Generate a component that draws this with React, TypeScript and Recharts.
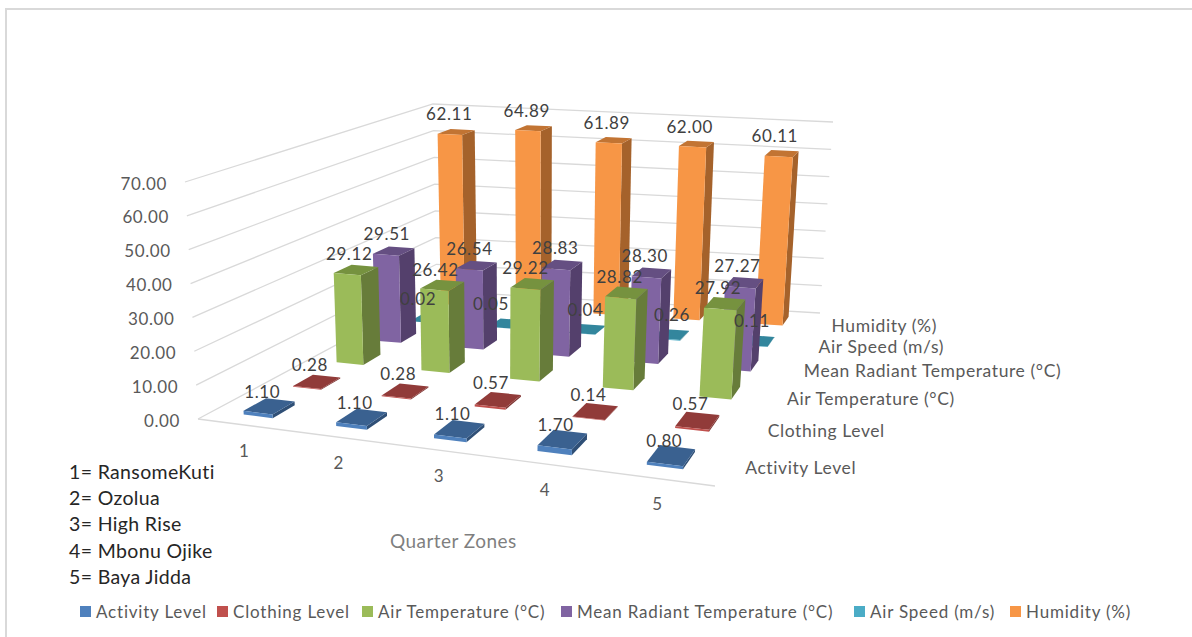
import React from 'react';
import { ScatterChart, Scatter, XAxis, YAxis, Legend } from 'recharts';

const zones = ['1', '2', '3', '4', '5'];
const zoneNames = ['1= RansomeKuti', '2= Ozolua', '3= High Rise', '4= Mbonu Ojike', '5= Baya Jidda'];
const valueTicks = [0, 10, 20, 30, 40, 50, 60, 70];

const seriesNames = [
  'Activity Level',
  'Clothing Level',
  'Air Temperature (°C)',
  'Mean Radiant Temperature (°C)',
  'Air Speed (m/s)',
  'Humidity (%)',
];

const activityLevel = [1.1, 1.1, 1.1, 1.7, 0.8];
const clothingLevel = [0.28, 0.28, 0.57, 0.14, 0.57];
const airTemperature = [29.12, 26.42, 29.22, 28.82, 27.92];
const radiantTemperature = [29.51, 26.54, 28.83, 28.3, 27.27];
const airSpeed = [0.02, 0.05, 0.04, 0.26, 0.11];
const humidity = [62.11, 64.89, 61.89, 62.0, 60.11];
const seriesValues = [activityLevel, clothingLevel, airTemperature, radiantTemperature, airSpeed, humidity];

// front, top and side shade of each series
const faceColors = [
  ['#4F81BD', '#3A6190', '#2F4F76'],
  ['#C0504D', '#913B39', '#7F3533'],
  ['#9BBB59', '#76923F', '#677C3A'],
  ['#8064A2', '#654F82', '#54406C'],
  ['#4BACC6', '#33869D', '#2F7688'],
  ['#F79646', '#C27433', '#A5622B'],
];

const FONT = 'Lato, sans-serif';
const MAX_VALUE = 70;
const BAR_WIDTH = 0.32; // share of a zone slot
const BAR_DEPTH = 0.44; // share of a series slot
const LABEL_RISE = [15, 17, 16, 17, 20, 18]; // value label height above each series' bars
const SPEED_LABEL_SHIFT = [-4, -9, 5, 8, 2]; // air speed labels sit off centre so they stay readable
const LEGEND_SLOTS = [137, 145, 199, 293, 156, 130]; // legend item widths

type Pt = { x: number; y: number };

// floor and ceiling of the plot box: front-left, front-right, back-right, back-left
const floorBox: Pt[] = [{ x: 198, y: 419 }, { x: 715, y: 486 }, { x: 820, y: 313 }, { x: 437, y: 291 }];
const ceilingBox: Pt[] = [{ x: 185, y: 182 }, { x: 732, y: 232 }, { x: 833, y: 122 }, { x: 433, y: 104 }];

// unit square to quadrilateral, so rows and zones shrink towards the back
const homography = (q: Pt[]) => {
  const [p0, p1, p2, p3] = q;
  const dx1 = p1.x - p2.x;
  const dx2 = p3.x - p2.x;
  const dy1 = p1.y - p2.y;
  const dy2 = p3.y - p2.y;
  const sx = p0.x - p1.x + p2.x - p3.x;
  const sy = p0.y - p1.y + p2.y - p3.y;
  const den = dx1 * dy2 - dx2 * dy1;
  const g = (sx * dy2 - dx2 * sy) / den;
  const h = (dx1 * sy - sx * dy1) / den;
  return (u: number, v: number): Pt => {
    const w = g * u + h * v + 1;
    return {
      x: ((p1.x - p0.x + g * p1.x) * u + (p3.x - p0.x + h * p3.x) * v + p0.x) / w,
      y: ((p1.y - p0.y + g * p1.y) * u + (p3.y - p0.y + h * p3.y) * v + p0.y) / w,
    };
  };
};

const floorAt = homography(floorBox);
const ceilingAt = homography(ceilingBox);

// evens out the zone spacing, the plain homography foreshortens it too much
const spreadZones = (u: number) => u + 0.09 * u * (1 - u);

const project = (u: number, v: number, value: number): Pt => {
  const a = floorAt(spreadZones(u), v);
  const b = ceilingAt(spreadZones(u), v);
  const t = value / MAX_VALUE;
  return { x: a.x + (b.x - a.x) * t, y: a.y + (b.y - a.y) * t };
};

const buildBars = (s: number) =>
  seriesValues[s].map((value, z) => {
    const u0 = (z + 0.5 - BAR_WIDTH / 2) / zones.length;
    const u1 = (z + 0.5 + BAR_WIDTH / 2) / zones.length;
    const v0 = (s + 0.5 - BAR_DEPTH / 2) / seriesNames.length;
    const v1 = (s + 0.5 + BAR_DEPTH / 2) / seriesNames.length;
    const anchor = project(u0, v0, value);
    return {
      ...anchor,
      value,
      corners: {
        fbl: project(u0, v0, 0),
        fbr: project(u1, v0, 0),
        bbr: project(u1, v1, 0),
        ftl: anchor,
        ftr: project(u1, v0, value),
        btr: project(u1, v1, value),
        btl: project(u0, v1, value),
      },
    };
  });

const poly = (pts: Pt[], ax: number, ay: number, cx: number, cy: number) =>
  pts.map((p) => `${p.x - ax + cx},${p.y - ay + cy}`).join(' ');

const BarShape = (props: any) => {
  const { cx, cy, payload, colors } = props;
  const c = payload.corners;
  const to = (pts: Pt[]) => poly(pts, payload.x, payload.y, cx, cy);
  return (
    <g>
      <polygon points={to([c.fbr, c.bbr, c.btr, c.ftr])} fill={colors[2]} />
      <polygon points={to([c.ftl, c.ftr, c.btr, c.btl])} fill={colors[1]} />
      <polygon points={to([c.fbl, c.fbr, c.ftr, c.ftl])} fill={colors[0]} />
    </g>
  );
};

const TextMark = (props: any) => {
  const { cx, cy, payload } = props;
  return (
    <text
      x={cx + (payload.dx ?? 0)}
      y={cy + (payload.dy ?? 0)}
      textAnchor={payload.anchor ?? 'middle'}
      dominantBaseline="central"
      fontFamily={FONT}
      fontSize={payload.size ?? 17}
      letterSpacing={payload.spacing ?? 0.6}
      fill={payload.color}
    >
      {payload.text}
    </text>
  );
};

const NoDot = () => <g />;
const gridStroke = { stroke: '#D9D9D9', strokeWidth: 1.3 };

const gridRows = valueTicks.map((t) => [project(0, 0, t), project(0, 1, t), project(1, 1, t)]);
const frontEdge = [project(0, 0, 0), project(1, 0, 0)];

const tickLabels = valueTicks.map((t) => ({
  ...project(0, 0, t),
  text: t.toFixed(2),
  anchor: 'end',
  dx: -18,
  dy: 1,
  color: '#595959',
}));

const zoneLabels = zones.map((z, i) => ({
  ...project((i + 0.5) / zones.length, 0, 0),
  text: z,
  dy: 25.5,
  dx: 1,
  color: '#595959',
}));

const seriesLabels = seriesNames.map((name, s) => ({
  ...project(1, (s + 0.5) / seriesNames.length, 0),
  text: name,
  anchor: 'start',
  dx: 17.5,
  dy: 2.5,
  size: 17.5,
  color: '#595959',
}));

const valueLabels = seriesValues.flatMap((_, s) =>
  seriesValues[s].map((value, z) => {
    const top = project((z + 0.5) / zones.length, (s + 0.5) / seriesNames.length, value);
    const shift = s === 4 ? SPEED_LABEL_SHIFT[z] : 0;
    return { ...top, text: value.toFixed(2), dx: -7 + shift, dy: -LABEL_RISE[s], color: '#404040' };
  }),
);

const backToFront = seriesNames.map((_, i) => seriesNames.length - 1 - i);

const LegendRow = () => (
  <div style={{ display: 'flex', fontFamily: FONT, fontSize: 17, letterSpacing: 0.8, color: '#595959', whiteSpace: 'nowrap' }}>
    {seriesNames.map((name, i) => (
      <span key={name} style={{ display: 'flex', alignItems: 'center', width: LEGEND_SLOTS[i] }}>
        <span style={{ width: 11, height: 11, background: faceColors[i][0], marginRight: 5 }} />
        {name}
      </span>
    ))}
  </div>
);

export default function App() {
  return (
    <div style={{ position: 'absolute', left: 0, top: 0, width: 1192, height: 637, background: '#fff', overflow: 'hidden' }}>
      <div style={{ position: 'absolute', left: 5, top: 8, right: 0, bottom: 0, borderLeft: '2px solid #D9D9D9', borderTop: '2px solid #D9D9D9' }} />
      <ScatterChart width={1192} height={637} margin={{ top: 0, right: 0, bottom: 0, left: 0 }}>
        <XAxis type="number" dataKey="x" domain={[0, 1192]} hide />
        <YAxis type="number" dataKey="y" domain={[0, 637]} reversed hide />
        <Legend
          layout="horizontal"
          verticalAlign="middle"
          align="center"
          wrapperStyle={{ left: 80, top: 601, width: 1100 }}
          content={() => <LegendRow />}
        />
        {gridRows.map((row, i) => (
          <Scatter key={valueTicks[i]} data={row} line={gridStroke} shape={NoDot} legendType="none" isAnimationActive={false} />
        ))}
        <Scatter data={frontEdge} line={gridStroke} shape={NoDot} legendType="none" isAnimationActive={false} />
        {backToFront.map((s) => (
          <Scatter
            key={seriesNames[s]}
            name={seriesNames[s]}
            data={buildBars(s)}
            fill={faceColors[s][0]}
            shape={(p: any) => <BarShape {...p} colors={faceColors[s]} />}
            isAnimationActive={false}
          />
        ))}
        <Scatter data={tickLabels} shape={TextMark} legendType="none" isAnimationActive={false} />
        <Scatter data={zoneLabels} shape={TextMark} legendType="none" isAnimationActive={false} />
        <Scatter data={seriesLabels} shape={TextMark} legendType="none" isAnimationActive={false} />
        <Scatter data={valueLabels} shape={TextMark} legendType="none" isAnimationActive={false} />
      </ScatterChart>
      <div style={{ position: 'absolute', left: 390, top: 529, fontFamily: FONT, fontSize: 19, letterSpacing: 0.45, color: '#7F7F7F' }}>Quarter Zones</div>
      <div style={{ position: 'absolute', left: 69, top: 459, fontFamily: FONT, fontSize: 19.5, letterSpacing: 0.35, color: '#262626', lineHeight: '26.2px' }}>
        {zoneNames.map((n) => (
          <div key={n}>{n}</div>
        ))}
      </div>
    </div>
  );
}
